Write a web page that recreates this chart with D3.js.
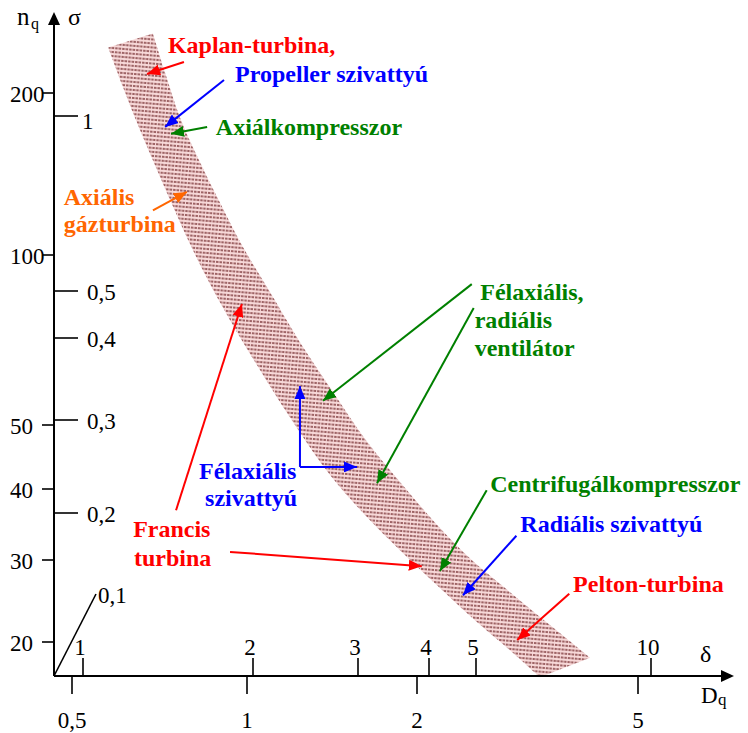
<!DOCTYPE html>
<html><head><meta charset="utf-8">
<script src="https://cdn.jsdelivr.net/npm/d3@7"></script>
<style>
body{margin:0;background:#fff}
svg{display:block}
text{font-family:"Liberation Serif","Times New Roman",serif}
</style>
</head><body>
<svg id="chart" width="748" height="733"></svg>
<script>
// Cordier diagram: specific speed nq / cavitation number σ against specific diameter Dq / δ

// axis tick values
const nqTicks = [20, 30, 40, 50, 100, 200];
const sigmaTicks = [0.2, 0.3, 0.4, 0.5, 1];
const dqTicks = [0.5, 1, 2, 5];
const deltaTicks = [1, 2, 3, 4, 5, 10];

// band of good machines, lower-left edge and upper-right edge as [Dq, nq]
const bandLower = [
  [0.577, 243], [0.612, 205], [0.654, 171], [0.700, 144], [0.746, 123], [0.804, 103],
  [0.871, 87.4], [0.957, 73.6], [1.081, 60.1], [1.226, 49.5], [1.403, 42.0], [1.618, 36.0],
  [1.866, 31.2], [2.17, 26.5], [2.54, 22.3], [2.94, 19.2], [3.33, 16.8]
];
const bandUpper = [
  [0.689, 258], [0.723, 218], [0.767, 180], [0.827, 150], [0.899, 124.9], [0.984, 103.5],
  [1.098, 86.0], [1.241, 70.1], [1.420, 57.2], [1.624, 47.4], [1.866, 41.0], [2.15, 35.0],
  [2.49, 30.2], [2.86, 26.3], [3.26, 23.1], [3.69, 20.5], [4.10, 18.5]
];

// machine type labels: text, colour key, anchor [Dq, nq]
const labels = [
  ["Kaplan-turbina,", "red", 0.731, 237],
  ["Propeller szivattyú", "blue", 0.954, 209.6],
  ["Axiálkompresszor", "green", 0.884, 167],
  ["Axiális", "orange", 0.484, 123.8],
  ["gázturbina", "orange", 0.484, 110.3],
  ["Félaxiális,", "green", 2.60, 83.2],
  ["radiális", "green", 2.54, 74.2],
  ["ventilátor", "green", 2.54, 66.3],
  ["Félaxiális", "blue", 0.827, 41.4],
  ["szivattyú", "blue", 0.847, 37.3],
  ["Francis", "red", 0.637, 32.9],
  ["turbina", "red", 0.639, 29.1],
  ["Centrifugálkompresszor", "green", 2.71, 39.5],
  ["Radiális szivattyú", "blue", 3.07, 33.6],
  ["Pelton-turbina", "red", 3.82, 25.6]
];

// pointer arrows: colour key, from [Dq, nq], to [Dq, nq]
const pointers = [
  ["red", [0.779, 228.4], [0.673, 217]],
  ["blue", [0.913, 211.5], [0.723, 173]],
  ["green", [0.854, 173], [0.740, 168]],
  ["orange", [0.689, 121], [0.788, 131]],
  ["red", [0.755, 36.7], [0.980, 81.9]],
  ["red", [0.935, 31.0], [2.04, 29.1]],
  ["green", [2.51, 88.8], [1.363, 55.2]],
  ["green", [2.53, 80.6], [1.699, 40.8]],
  ["blue", [1.241, 43.2], [1.241, 58.6]],
  ["blue", [1.241, 43.2], [1.566, 43.2]],
  ["green", [2.67, 39.8], [2.20, 28.4]],
  ["blue", [3.02, 33.1], [2.42, 25.2]],
  ["red", [3.76, 25.4], [3.03, 20.2]]
];

const colors = {red: "#ff0000", blue: "#0000ff", green: "#008000", orange: "#ff6600"};

const svg = d3.select("#chart");
const x0 = 54, y0 = 676;

// hand-drawn axes: piecewise logarithmic scales
const nq = d3.scaleLog().domain(nqTicks).range([642, 560, 489, 425, 255, 93]);
const sigma = d3.scaleLog().domain(sigmaTicks).range([513, 420, 338, 291, 116]);
const dq = d3.scaleLog().domain(dqTicks).range([72, 247, 417, 638]);
const delta = d3.scaleLog().domain(deltaTicks).range([83, 253, 358, 429, 476, 651]);

// hatch pattern for the band
const defs = svg.append("defs");
const pat = defs.append("pattern").attr("id", "hatch")
  .attr("patternUnits", "userSpaceOnUse").attr("width", 7).attr("height", 4)
  .attr("patternTransform", "rotate(5)");
pat.append("rect").attr("width", 7).attr("height", 4).attr("fill", "#f7d8d8");
pat.append("line").attr("x1", 0).attr("x2", 7).attr("y1", 2).attr("y2", 2)
  .attr("stroke", "#7f3b3e").attr("stroke-width", 1.5).attr("stroke-dasharray", "2.5,1");

Object.entries(colors).forEach(([k, c]) => {
  defs.append("marker").attr("id", "arr-" + k)
    .attr("markerUnits", "userSpaceOnUse")
    .attr("markerWidth", 14).attr("markerHeight", 11)
    .attr("refX", 13).attr("refY", 5.5).attr("orient", "auto")
    .append("path").attr("d", "M0,0 L13,5.5 L0,11 Z").attr("fill", c);
});

// band
const edge = d3.line().x(d => dq(d[0])).y(d => nq(d[1])).curve(d3.curveCatmullRom.alpha(0.5));
const bandPath = edge(bandLower) + edge(bandUpper.slice().reverse()).replace(/^M/, "L") + "Z";
svg.append("path").attr("d", bandPath).attr("fill", "url(#hatch)");

// axes
svg.append("line").attr("x1", x0).attr("y1", y0).attr("x2", x0).attr("y2", 22)
  .attr("stroke", "#000").attr("stroke-width", 2);
svg.append("path").attr("d", `M${x0},12 L${x0 - 6},25 L${x0 + 6},25 Z`).attr("fill", "#000");
svg.append("line").attr("x1", x0).attr("y1", y0).attr("x2", 722).attr("y2", y0)
  .attr("stroke", "#000").attr("stroke-width", 2);
svg.append("path").attr("d", `M734,${y0} L721,${y0 - 6} L721,${y0 + 6} Z`).attr("fill", "#000");

const fmt = v => String(v).replace(".", ",");
const tickStyle = sel => sel.attr("stroke", "#000").attr("stroke-width", 1.6);

// nq ticks (left of axis)
nqTicks.forEach(v => {
  tickStyle(svg.append("line").attr("x1", x0 - 12).attr("x2", x0).attr("y1", nq(v)).attr("y2", nq(v)));
  svg.append("text").attr("x", 10).attr("y", nq(v) + 9).attr("font-size", 23).text(v);
});
// sigma ticks (right of axis)
sigmaTicks.forEach(v => {
  tickStyle(svg.append("line").attr("x1", x0).attr("x2", x0 + 24).attr("y1", sigma(v)).attr("y2", sigma(v)));
  svg.append("text").attr("x", v === 1 ? x0 + 28 : x0 + 33).attr("y", sigma(v) + (v === 1 ? 13 : 9))
    .attr("font-size", 23).text(fmt(v));
});
// sigma = 0,1 drawn as a slanted stroke from the origin
tickStyle(svg.append("line").attr("x1", x0).attr("y1", y0).attr("x2", x0 + 42).attr("y2", y0 - 82));
svg.append("text").attr("x", x0 + 44).attr("y", y0 - 73).attr("font-size", 23).text("0,1");

// delta ticks (above axis)
deltaTicks.forEach(v => {
  tickStyle(svg.append("line").attr("x1", delta(v)).attr("x2", delta(v)).attr("y1", y0 - 18).attr("y2", y0));
  svg.append("text").attr("x", delta(v) - 3).attr("y", y0 - 21).attr("text-anchor", "middle")
    .attr("font-size", 23).text(v);
});
// Dq ticks (below axis)
dqTicks.forEach(v => {
  tickStyle(svg.append("line").attr("x1", dq(v)).attr("x2", dq(v)).attr("y1", y0).attr("y2", y0 + 18));
  svg.append("text").attr("x", dq(v)).attr("y", y0 + 52).attr("text-anchor", "middle")
    .attr("font-size", 23).text(fmt(v));
});

// axis titles
svg.append("text").attr("x", 17).attr("y", 25).attr("font-size", 25).text("n");
svg.append("text").attr("x", 31).attr("y", 29).attr("font-size", 16).text("q");
svg.append("text").attr("x", 68).attr("y", 25).attr("font-size", 24).text("σ");
svg.append("text").attr("x", 700).attr("y", 662).attr("font-size", 24).text("δ");
svg.append("text").attr("x", 701).attr("y", 703).attr("font-size", 23).text("D");
svg.append("text").attr("x", 718).attr("y", 705).attr("font-size", 17).text("q");

// pointer arrows
pointers.forEach(([c, a, b]) => {
  svg.append("line")
    .attr("x1", dq(a[0])).attr("y1", nq(a[1]))
    .attr("x2", dq(b[0])).attr("y2", nq(b[1]))
    .attr("stroke", colors[c]).attr("stroke-width", 2)
    .attr("marker-end", `url(#arr-${c})`);
});

// labels
labels.forEach(([t, c, dv, nv]) => {
  svg.append("text").attr("x", dq(dv)).attr("y", nq(nv))
    .attr("font-size", 24).attr("font-weight", "bold").attr("fill", colors[c]).text(t);
});
</script>
</body></html>
